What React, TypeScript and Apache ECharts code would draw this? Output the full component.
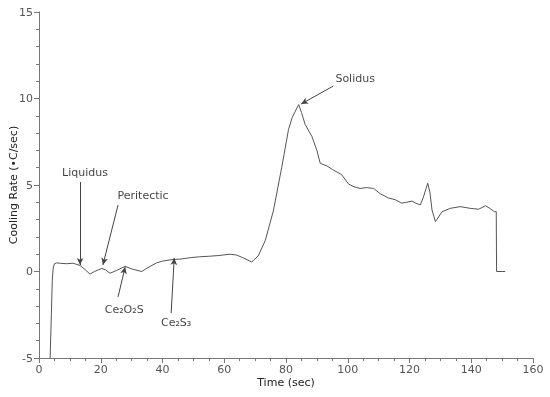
import React, { useEffect, useRef } from "react";
import * as echarts from "echarts";

const timeSec = [3.6, 4.0, 4.3, 4.6, 5.0, 5.7, 7, 9, 11, 13.3, 15, 16.5, 18, 20.3, 21.5, 23, 25, 27.9, 30, 33.3, 35, 38.1, 40, 43.5, 46, 49, 52, 55, 58, 61.9, 64, 66, 68.9, 71, 73.3, 75.9, 78.6, 80.8, 82, 84.1, 85, 86.2, 88.4, 90, 91.1, 93.3, 95, 96.5, 98, 100.3, 102, 104, 106, 108.4, 110.5, 113.2, 115.4, 117.5, 119, 120.8, 122, 123.5, 124.5, 125.9, 126.6, 127.3, 128.4, 130.5, 133.2, 136.4, 139.7, 142.4, 144.6, 146, 147.5, 148.1, 148.2, 151];
const coolingRate = [-5, -2.5, -0.5, 0.2, 0.45, 0.5, 0.47, 0.45, 0.48, 0.35, 0.1, -0.15, 0.0, 0.18, 0.1, -0.1, 0.05, 0.3, 0.15, 0.0, 0.2, 0.5, 0.6, 0.7, 0.72, 0.8, 0.85, 0.88, 0.92, 1.0, 0.95, 0.8, 0.55, 0.9, 1.8, 3.5, 6.0, 8.2, 8.9, 9.65, 9.2, 8.5, 7.8, 7.0, 6.25, 6.1, 5.9, 5.75, 5.6, 5.05, 4.9, 4.8, 4.85, 4.8, 4.5, 4.25, 4.15, 3.95, 4.0, 4.07, 3.95, 3.85, 4.3, 5.1, 4.6, 3.55, 2.88, 3.45, 3.65, 3.75, 3.65, 3.6, 3.8, 3.65, 3.46, 3.46, 0, 0];

const xTicks = [0, 20, 40, 60, 80, 100, 120, 140, 160];
const yTicks = [-5, 0, 5, 10, 15];

// annotations: label text, label anchor [t, v], arrow from [t, v] to [t, v]
const annotationNames = ["Liquidus", "Peritectic", "Ce₂O₂S", "Ce₂S₃", "Solidus"];
const annotationLabelAt = [[14.9, 5.75], [33.7, 4.42], [27.6, -2.17], [44.4, -2.92], [102.4, 11.18]];
const annotationArrowFrom = [[13.3, 5.17], [25.6, 3.84], [25.6, -1.47], [42.8, -2.4], [95.3, 10.72]];
const annotationArrowTo = [[13.3, 0.38], [20.7, 0.38], [27.9, 0.26], [43.8, 0.78], [84.9, 9.68]];

const FONT = "DejaVu Sans";

export default function App() {
  const ref = useRef<HTMLDivElement>(null);
  useEffect(() => {
    if (!ref.current) return;
    const chart = echarts.init(ref.current, null, { renderer: "svg" });
    const lineData = timeSec.map((t, i) => [t, coolingRate[i]]);
    const labelData = annotationNames.map((n, i) => ({ value: annotationLabelAt[i], name: n }));
    const arrows = annotationNames.map((_, i) => [
      { coord: annotationArrowFrom[i], symbol: "none" },
      { coord: annotationArrowTo[i], symbol: "arrow", symbolSize: [5, 7] },
    ]);
    chart.setOption({
      animation: false,
      grid: { left: 39, right: 17, top: 12, bottom: 39, containLabel: false, outerBoundsMode: "none" },
      xAxis: {
        type: "value",
        min: xTicks[0],
        max: xTicks[xTicks.length - 1],
        interval: 20,
        name: "Time (sec)",
        nameLocation: "middle",
        nameGap: 19,
        nameMoveOverlap: false,
        nameTextStyle: { fontFamily: FONT, fontSize: 11, color: "#222", verticalAlign: "top" },
        axisLine: { onZero: false, lineStyle: { color: "#777" } },
        axisTick: { show: true, length: 5, lineStyle: { color: "#777" } },
        minorTick: { show: true, splitNumber: 4, length: 3, lineStyle: { color: "#777" } },
        splitLine: { show: false },
        axisLabel: { fontFamily: FONT, fontSize: 11, color: "#555", margin: 6 },
      },
      yAxis: {
        type: "value",
        min: yTicks[0],
        max: yTicks[yTicks.length - 1],
        interval: 5,
        name: "Cooling Rate (•C/sec)",
        nameLocation: "middle",
        nameGap: 20,
        nameMoveOverlap: false,
        nameTextStyle: { fontFamily: FONT, fontSize: 11, color: "#222", verticalAlign: "bottom" },
        axisLine: { show: true, onZero: false, lineStyle: { color: "#777" } },
        axisTick: { show: true, length: 5, lineStyle: { color: "#777" } },
        minorTick: { show: true, splitNumber: 5, length: 3, lineStyle: { color: "#777" } },
        splitLine: { show: false },
        axisLabel: { fontFamily: FONT, fontSize: 11, color: "#555", margin: 6 },
      },
      series: [
        {
          type: "line",
          data: lineData,
          showSymbol: false,
          smooth: false,
          lineStyle: { color: "#555", width: 1 },
          silent: true,
          markLine: {
            silent: true,
            animation: false,
            label: { show: false },
            lineStyle: { color: "#444", width: 1, type: "solid" },
            emphasis: { disabled: true },
            data: arrows,
          },
        },
        {
          type: "scatter",
          data: labelData,
          symbolSize: 0,
          silent: true,
          label: {
            show: true,
            position: "inside",
            formatter: (p: any) => p.name,
            fontFamily: FONT,
            fontSize: 11,
            color: "#111",
          },
        },
      ],
    });
    return () => chart.dispose();
  }, []);
  return <div ref={ref} style={{ position: "fixed", left: 0, top: 0, width: 550, height: 397 }} />;
}
